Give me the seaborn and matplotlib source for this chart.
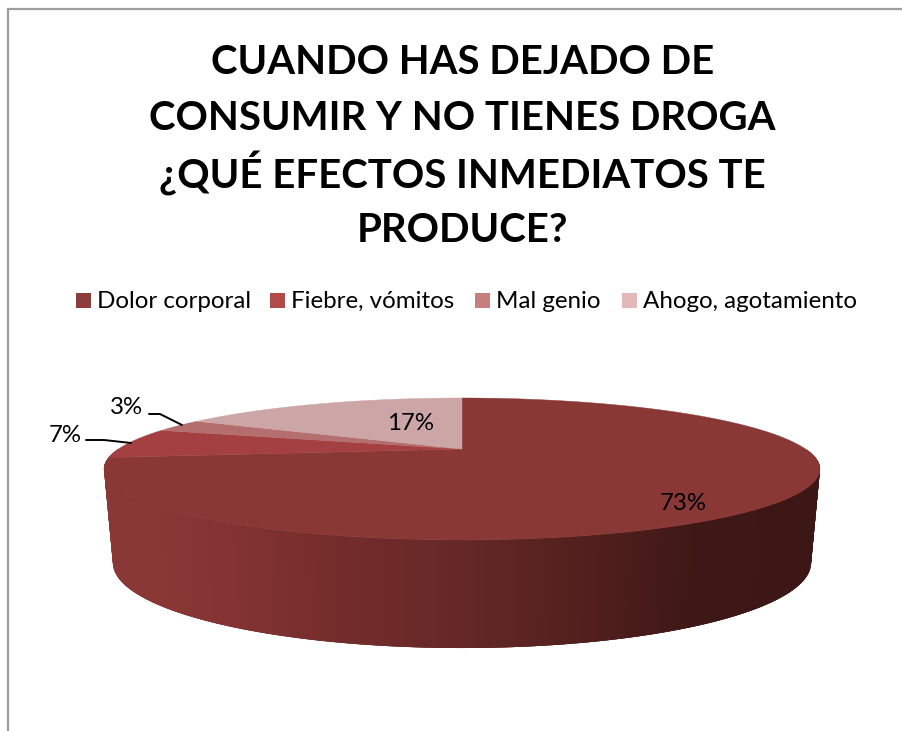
import matplotlib
matplotlib.use("Agg")
import matplotlib.pyplot as plt
import numpy as np
import seaborn as sns
from matplotlib.collections import PolyCollection

# Survey results
categories = ["Dolor corporal", "Fiebre, vómitos", "Mal genio", "Ahogo, agotamiento"]
values = [73, 7, 3, 17]
value_labels = ["73%", "7%", "3%", "17%"]
title_lines = ["CUANDO HAS DEJADO DE", "CONSUMIR Y NO TIENES DROGA",
               "¿QUÉ EFECTOS INMEDIATOS TE", "PRODUCE?"]
legend_colors = ["#8B3C3B", "#B24A49", "#C77F7D", "#E3B8B8"]
top_colors = ["#8A3836", "#A44041", "#B46E6E", "#CCA6A6"]

sns.set_theme(style="white")
plt.rcParams["font.family"] = ["Lato", "DejaVu Sans"]
palette = sns.color_palette(top_colors)

fig = plt.figure(figsize=(9.03, 7.31), dpi=100)
ax = fig.add_axes([0, 0, 1, 1])
ax.set_xlim(0, 903)
ax.set_ylim(731, 0)
ax.axis("off")

# Page-style frame, open on the right and at the bottom
ax.plot([8, 8, 903], [731, 9, 9], color="#9C9C9C", lw=1.6, solid_joinstyle="miter")

# Title
for line, y in zip(title_lines, [62, 118, 174, 230]):
    ax.text(462.5, y, line, ha="center", va="center", fontsize=28.9, fontweight="bold", color="black")

# Legend
swatch_x = [76, 270, 475, 622]
for name, color, sx in zip(categories, legend_colors, swatch_x):
    ax.fill([sx, sx + 15, sx + 15, sx], [293, 293, 308, 308], color=color, lw=0)
    ax.text(sx + 21, 301, name, ha="left", va="center", fontsize=17.4, color="black")

# Tilted disc: projective mapping of the unit circle, clockwise from twelve o'clock
cx, k, persp = 462.0, 343.5, 0.2817
def top_xy(theta):
    s, c = np.sin(theta), np.cos(theta)
    d = 1 + persp * c
    return cx + k * s / d, (449 + 61.1 * c) / d

def bottom_xy(theta):
    x, y = top_xy(theta)
    return cx + (x - cx) * 0.975, 563 + (y - 469) * 85 / 71

# Side wall, shaded from left to right; each strip overlaps the next to hide seams
thetas = np.radians(np.linspace(90, 270, 361))
tx, ty = top_xy(thetas)
bx, by = bottom_xy(thetas)
ramp_x = [104, 150, 250, 350, 480, 620, 700, 820]
ramp_rgb = np.array([[0x8A, 0x38, 0x36], [0x8A, 0x38, 0x36], [0x80, 0x32, 0x31], [0x72, 0x2C, 0x2B],
                     [0x62, 0x27, 0x25], [0x4C, 0x1D, 0x1B], [0x3E, 0x18, 0x16], [0x3C, 0x17, 0x15]]) / 255
polys, cols = [], []
for i in range(len(thetas) - 1):
    j = min(i + 3, len(thetas) - 1)
    polys.append([(tx[i], ty[i]), (tx[j], ty[j]), (bx[j], by[j]), (bx[i], by[i])])
    mid = (tx[i] + tx[i + 1]) / 2
    cols.append([np.interp(mid, ramp_x, ramp_rgb[:, n]) for n in range(3)])
ax.add_collection(PolyCollection(polys, facecolors=cols, edgecolors="none"))

# Top face, one fan per slice
fractions = np.cumsum([0] + values) / sum(values)
for start, end, color in zip(fractions[:-1], fractions[1:], palette):
    th = 2 * np.pi * np.linspace(start, end, 200)
    x, y = top_xy(th)
    ax.fill(np.r_[cx, x], np.r_[449, y], color=color, lw=0.3, zorder=3)

# Value labels and their leader lines
label_pos = [(683, 503), (65, 435), (127, 408), (411, 424)]
for text, (lx, ly) in zip(value_labels, label_pos):
    ax.text(lx, ly, text, ha="center", va="center", fontsize=17.3, color="black", zorder=5)
ax.plot([86, 104, 131], [440, 440, 443], color="black", lw=1.4, zorder=4)
ax.plot([149, 160, 182], [414, 414, 425], color="black", lw=1.4, zorder=4)

fig.savefig("out.png", dpi=100, facecolor="white")
